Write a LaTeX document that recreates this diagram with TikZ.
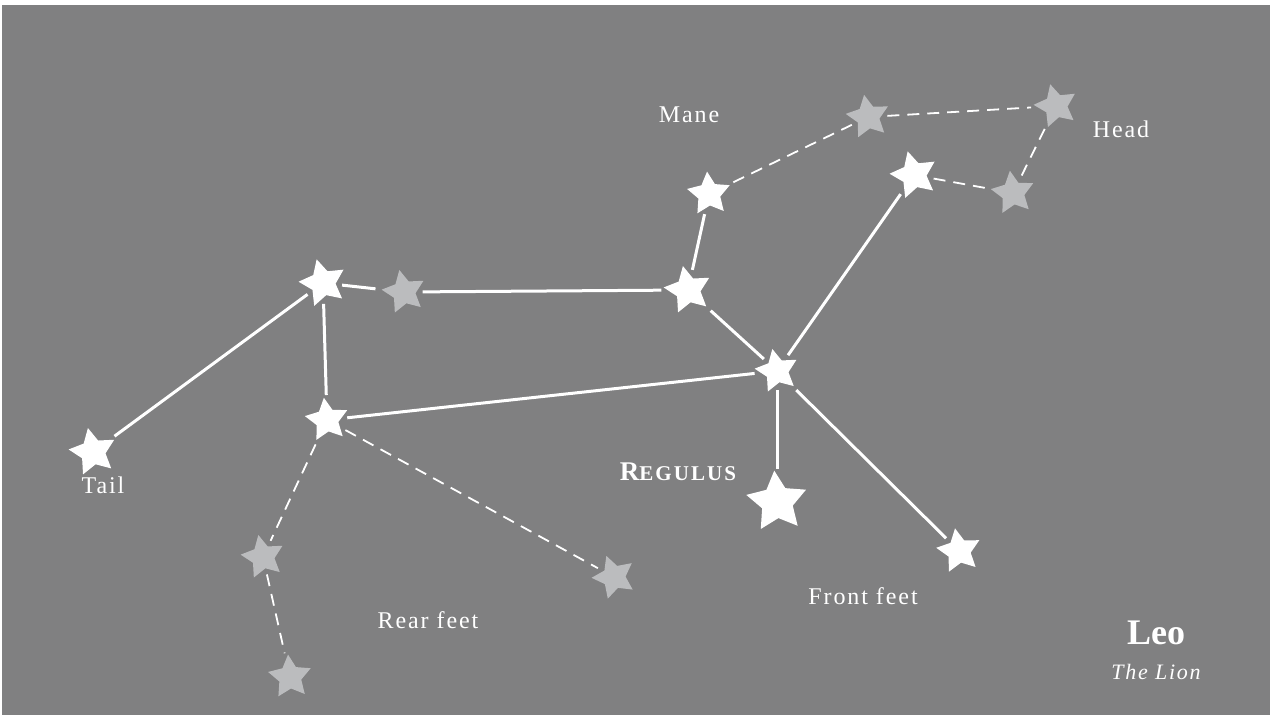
\documentclass[tikz,border=0pt]{standalone}
\usepackage{fontspec}
\setmainfont{Liberation Serif}
\newfontfamily\spacedfont[LetterSpace=8]{Liberation Serif}
\newfontfamily\capsfont[LetterSpace=10]{Liberation Serif}
\usepackage{tikz}
\usetikzlibrary{shapes.geometric,positioning}
\definecolor{skygray}{RGB}{128,128,129}
\definecolor{faintstar}{RGB}{187,188,190}
\newcommand{\smallcaps}[2]{{\fontsize{27}{27}\selectfont #1}{\fontsize{21}{21}\selectfont #2}}

\begin{document}
\begin{tikzpicture}[x=1pt,y=-1pt,font=\spacedfont\fontsize{24}{24}\selectfont]
        \tikzstyle{bright} = [star, star points=5, star point ratio=1.95, fill=white, inner sep=0pt, minimum size=49pt, shape border rotate=12]
        \tikzstyle{faint} = [bright, fill=faintstar, minimum size=45pt]
        \tikzstyle{line} = [draw=white, line width=3pt, shorten >=6pt, shorten <=6pt]
        \tikzstyle{faintline} = [line, line width=1.8pt, dash pattern=on 12pt off 8pt]
        \tikzstyle{tag} = [text=white, inner sep=0pt]

        \useasboundingbox (0,0) rectangle (1270,715);
        \fill[skygray] (2,5) rectangle (1270,715);

        % Stars
        \node[bright] (tail) at (93,452) {};
        \node[bright, shape border rotate=15] (rump) at (323,283) {};
        \node[faint] (back) at (404,292) {};
        \node[bright, shape border rotate=8, minimum size=45pt] (hip) at (327,420) {};
        \node[faint] (rearA) at (263,557) {};
        \node[faint, shape border rotate=5] (rearB) at (290,677) {};
        \node[faint, shape border rotate=20] (rearC) at (614,577) {};
        \node[bright] (neck) at (688,290) {};
        \node[bright, shape border rotate=5, minimum size=45pt] (maneA) at (709,194) {};
        \node[faint, shape border rotate=10] (maneB) at (868,117) {};
        \node[faint, shape border rotate=15] (headA) at (1056,106) {};
        \node[faint, shape border rotate=8] (headB) at (1013,193) {};
        \node[bright, shape border rotate=15] (headC) at (914,175) {};
        \node[bright, minimum size=45pt] (chest) at (777,371) {};
        \node[bright, minimum size=63pt, shape border rotate=5] (regulus) at (777,502) {};
        \node[bright, minimum size=46pt, shape border rotate=10] (front) at (959,551) {};

        % Labels
        \node[tag] at (689,115) {Mane};
        \node[tag] at (1121,129) {Head};
        \node[tag] at (103,485) {Tail};
        \node[tag] at (428,620) {Rear feet};
        \node[tag] at (863,596) {Front feet};
        \node[tag, font=\capsfont\bfseries] at (678,472) {\smallcaps{R}{EGULUS}};
        \node[tag, font=\bfseries\fontsize{36}{36}\selectfont] at (1156,633) {Leo};
        \node[tag, font=\spacedfont\itshape\fontsize{22}{22}\selectfont] at (1156,672) {The Lion};

        % Solid lines
        \path (tail) edge[line] (rump);
        \path (rump) edge[line] (back);
        \path (back) edge[line] (neck);
        \path (rump) edge[line] (hip);
        \path (hip) edge[line] (chest);
        \path (neck) edge[line] (maneA);
        \path (neck) edge[line] (chest);
        \path (chest) edge[line] (headC);
        \path (chest) edge[line] (regulus);
        \path (chest) edge[line] (front);

        % Dashed lines
        \path (maneA) edge[faintline] (maneB);
        \path (maneB) edge[faintline] (headA);
        \path (headA) edge[faintline] (headB);
        \path (headB) edge[faintline] (headC);
        \path (hip) edge[faintline] (rearA);
        \path (rearA) edge[faintline] (rearB);
        \path (hip) edge[faintline] (rearC);
    \end{tikzpicture}
\end{document}
